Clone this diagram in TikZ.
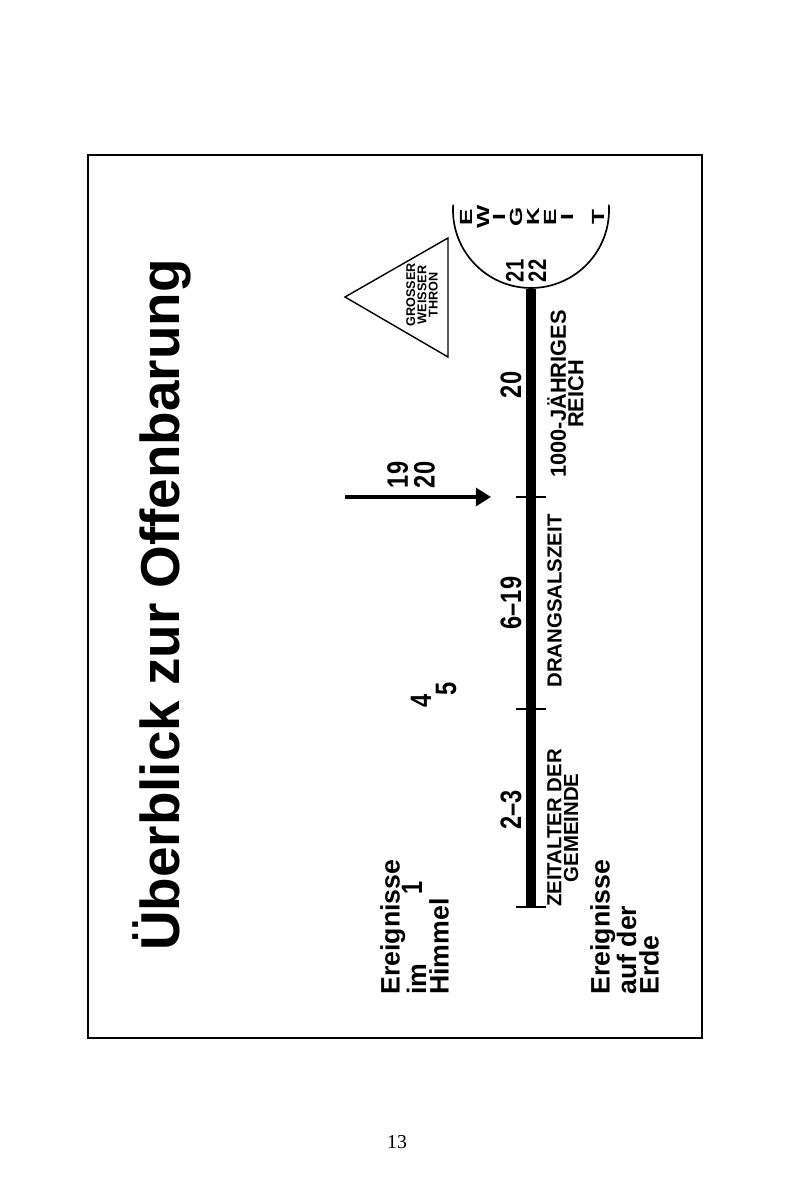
\documentclass[tikz,border=0pt]{standalone}
\usepackage{fontspec}
\setmainfont{Liberation Sans}
\newfontfamily\narrowfont[FakeStretch=0.8]{Liberation Sans}
\newfontfamily\widefont[FakeStretch=1.4]{Liberation Sans}
\newfontfamily\pagefont{Liberation Serif}
\usetikzlibrary{arrows.meta}

\begin{document}
\begin{tikzpicture}[x=0.25mm, y=0.25mm,
    vtext/.style={rotate=90, inner sep=0pt, font=\bfseries},
    heading/.style={vtext, font=\fontsize{39}{44}\selectfont\bfseries},
    side/.style={vtext, align=left, font=\fontsize{19}{16}\selectfont\bfseries},
    era/.style={vtext, align=center, font=\fontsize{14.5}{12}\selectfont\bfseries},
    chapter/.style={vtext, align=center, font=\fontsize{21}{19}\narrowfont\bfseries},
    letter/.style={vtext, font=\fontsize{12.5}{12}\widefont\bfseries},
    bar/.style={line width=7.8pt},
    tick/.style={line width=1pt},
    arrow/.style={-{Triangle[length=0.38cm, width=0.45cm]}, line width=2.5pt}
]
    \useasboundingbox (0,0) rectangle (789,1200);

    % Frame and title
    \draw[line width=1.5pt] (88,162) rectangle (702,1045);
    \node[heading] (title) at (162,595) {Überblick zur Offenbarung};

    % Events in heaven
    \node[side, anchor=north west] (himmel) at (380,205) {Ereignisse\\im\\Himmel};
    \node[chapter] (one) at (412,312) {1};
    \node[chapter] (four) at (421,499) {4};
    \node[chapter] (five) at (446,511) {5};
    \node[chapter] (nineteen) at (411,725) {19\\20};
    \coordinate (arrowStart) at (345,703);
    \coordinate (arrowEnd) at (491,703);
    \draw[arrow] (arrowStart) -- (arrowEnd);

    % Great white throne
    \coordinate (apex) at (345,903);
    \coordinate (baseTop) at (448,962);
    \coordinate (baseBottom) at (448,843);
    \draw[line width=1pt] (apex) -- (baseTop) -- (baseBottom) -- cycle;
    \node[vtext, align=center, font=\fontsize{9}{8}\selectfont\bfseries] (thron) at (422,905) {GROSSER\\WEISSER\\THRON};

    % Timeline on earth
    \coordinate (barBottom) at (531,293);
    \coordinate (barTop) at (531,911);
    \draw[bar] (barBottom) -- (barTop);
    \draw[line width=2pt] (516,293) -- (546,293);
    \draw[tick] (516,491) -- (546,491);
    \draw[tick] (516,703) -- (546,703);

    \node[chapter] (twothree) at (511,390) {2–3};
    \node[chapter] (sixnineteen) at (511,597) {6–19};
    \node[chapter] (twenty) at (511,815) {20};
    \node[chapter, font=\fontsize{18}{16}\narrowfont\bfseries] (twentyone) at (526,929) {21\\22};

    \node[era, anchor=north] (zeitalter) at (547,372) {ZEITALTER DER\\GEMEINDE};
    \node[era, anchor=north] (drangsal) at (547,599) {DRANGSALSZEIT};
    \node[era, anchor=north, font=\fontsize{15.5}{12.5}\selectfont\bfseries] (reich) at (547,806) {1000-JÄHRIGES\\REICH};

    \node[side, anchor=north west] (erde) at (590,205) {Ereignisse\\auf der\\Erde};

    % Eternity
    \coordinate (eternity) at (531,990);
    \draw[line width=1.2pt] ([shift={(176:19.5mm)}]eternity) arc[start angle=176, end angle=364, radius=19.5mm];
    \node[letter] (ew1) at (466,983) {E};
    \node[letter] (ew2) at (483,983) {W};
    \node[letter] (ew3) at (499,983) {I};
    \node[letter] (ew4) at (516,983) {G};
    \node[letter] (ew5) at (533,983) {K};
    \node[letter] (ew6) at (550,983) {E};
    \node[letter] (ew7) at (567,983) {I};
    \node[letter] (ew8) at (598,983) {T};

    % Page number
    \node[font=\fontsize{14}{14}\pagefont] (page) at (397,58) {13};
\end{tikzpicture}
\end{document}
